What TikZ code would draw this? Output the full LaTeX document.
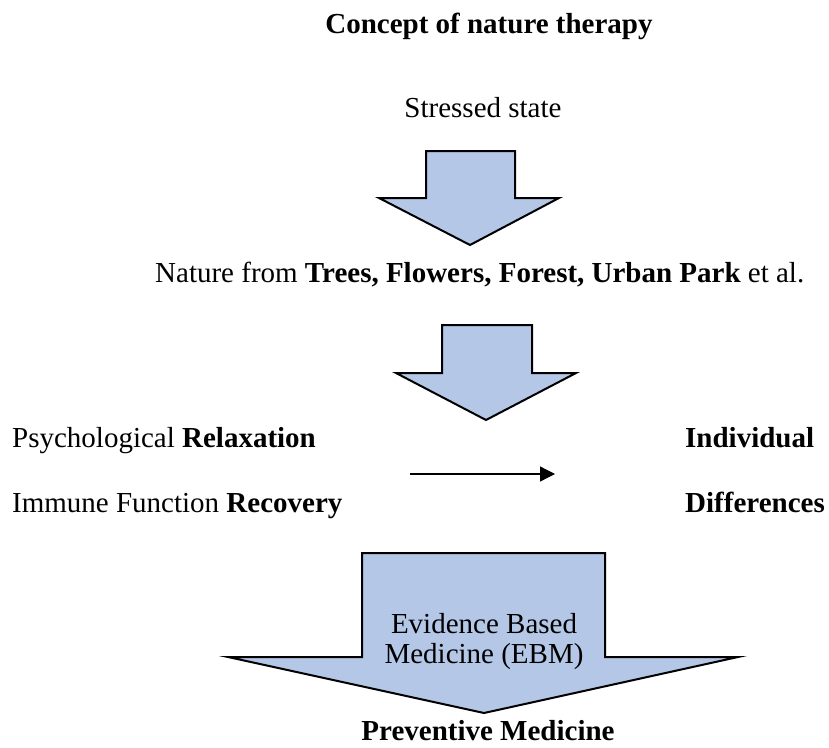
\documentclass[tikz,border=0pt]{standalone}
\usepackage{fontspec}
\setmainfont{Liberation Serif}
\usetikzlibrary{arrows.meta}
\definecolor{arrowfill}{RGB}{180,199,231}
\begin{document}
\begin{tikzpicture}[x=1pt,y=-1pt,
  txt/.style={inner sep=0pt,anchor=base,font=\fontsize{29}{35}\selectfont},
  txtw/.style={txt,anchor=base west},
  bigarrow/.style={draw=black,line width=2pt,fill=arrowfill,line join=miter}]
\useasboundingbox (0,0) rectangle (829,747);
% title and texts
\node[txt] (title) at (489,33) {\bfseries Concept of nature therapy};
\node[txt] (stress) at (483,117) {Stressed state};
\node[txtw] (nature) at (155,282) {Nature from \textbf{Trees, Flowers, Forest, Urban Park} et al.};
\node[txtw] (psych) at (12,447) {Psychological \textbf{Relaxation}};
\node[txtw] (immune) at (12,512) {Immune Function \textbf{Recovery}};
\node[txtw] (indiv) at (685,447) {\bfseries Individual};
\node[txtw] (diff) at (685,512) {\bfseries Differences};
% block arrow 1
\draw[bigarrow] (426,151) -- (515,151) -- (515,198) -- (559,198) -- (470,245) -- (379,198) -- (426,198) -- cycle;
% block arrow 2
\draw[bigarrow] (442,325) -- (532,325) -- (532,373) -- (576,373) -- (486,420) -- (396,373) -- (442,373) -- cycle;
% block arrow 3
\draw[bigarrow] (362,553) -- (605,553) -- (605,657) -- (738,657) -- (484,713) -- (228,657) -- (362,657) -- cycle;
\node[txt] (ebm1) at (484,633) {Evidence Based};
\node[txt] (ebm2) at (484,663) {Medicine (EBM)};
\node[txt] (prev) at (488,740) {\bfseries Preventive Medicine};
% small arrow
\coordinate (sa) at (410,474);
\coordinate (sb) at (555,474);
\draw[line width=1.3pt,-{Triangle[length=15pt,width=15pt]}] (sa) -- (sb);
\end{tikzpicture}
\end{document}
